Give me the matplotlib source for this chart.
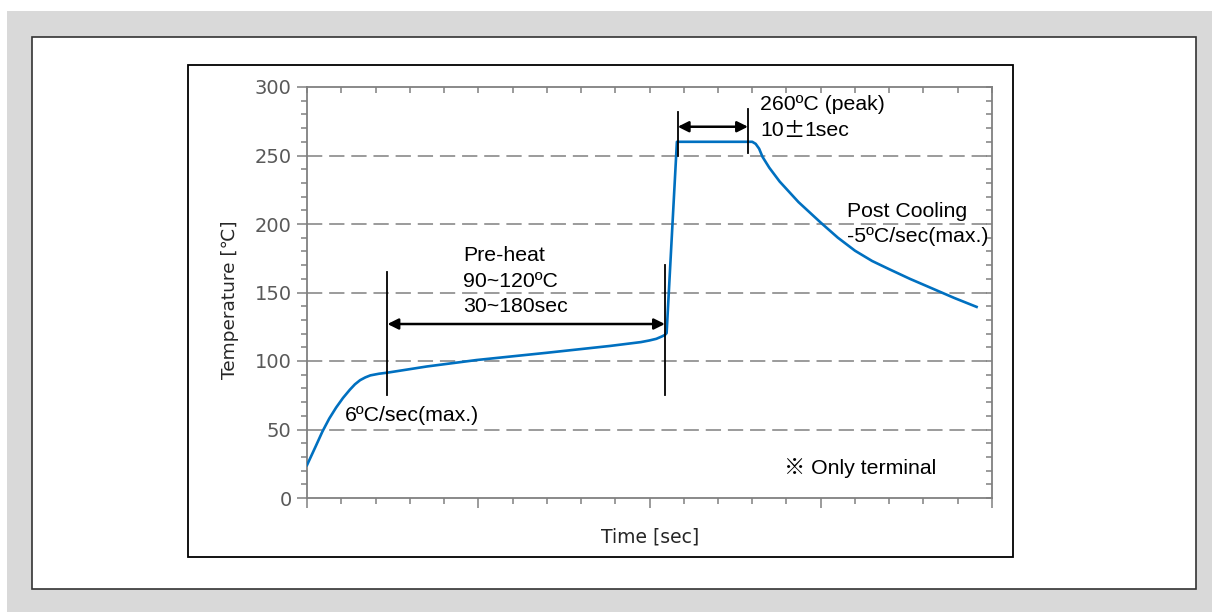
import numpy as np
import matplotlib
matplotlib.use('Agg')
from matplotlib import pyplot as plt
from matplotlib.patches import Rectangle

# reflow profile
time_s = [0, 5, 9, 13, 17, 21, 25, 28, 31, 34, 37, 42, 47, 70, 99, 140, 177, 195, 200, 204, 207, 209, 210,
          216, 260, 262, 264, 266, 270, 276, 287, 300, 310, 320, 330, 340, 352, 365, 378, 391]
temp_c = [24, 37.5, 48.5, 58, 66, 73, 79, 83, 86, 88, 89.5, 90.7, 91.5, 96, 100.7, 106, 111, 113.8, 115, 116.2, 117.8, 119, 120.4,
          260, 260, 258.5, 255, 249, 241, 231, 216, 201, 190, 180.5, 173, 167, 160, 153, 146, 139.5]

# marker lines [x, y_bottom, y_top]
preheat_lines = [(47, 75, 165), (209, 75, 170)]
peak_lines = [(216.5, 250, 282), (257.5, 252, 284)]

yticks = [0, 50, 100, 150, 200, 250, 300]
grid_levels = [50, 100, 150, 200, 250]

blue = '#0070C0'
grey_txt = '#595959'
txt_font = ['Liberation Sans', 'Noto Sans CJK JP', 'DejaVu Sans']

fig = plt.figure(figsize=(12.12, 6.12), dpi=100)
fig.patch.set_facecolor('white')

W, H = 1212.0, 612.0
def frect(x0, y0, x1, y1, **kw):
    # rectangle from pixel coords (top-left origin)
    r = Rectangle((x0 / W, 1 - y1 / H), (x1 - x0) / W, (y1 - y0) / H,
                  transform=fig.transFigure, **kw)
    fig.add_artist(r)

frect(7, 11, 1212, 612, facecolor='#D9D9D9', edgecolor='none', zorder=-3)
frect(32, 37, 1196, 589, facecolor='white', edgecolor='#333333', lw=1.2, zorder=-2)
frect(188, 65, 1013, 557, facecolor='white', edgecolor='black', lw=1.3, zorder=-1)

ax = fig.add_axes([307 / W, 1 - 498 / H, (992 - 307) / W, (498 - 87) / H])
ax.set_facecolor('none')

# grid
for g in grid_levels:
    ax.axhline(g, color='#808080', lw=1.1, dashes=(10, 4.5), zorder=1)

ax.plot(time_s, temp_c, color=blue, lw=1.9, zorder=3, solid_joinstyle='round')

for x, y0, y1 in preheat_lines + peak_lines:
    ax.plot([x, x], [y0, y1], color='black', lw=1.3, zorder=4)

arrow_kw = dict(arrowstyle='<|-|>', color='black', lw=1.8, mutation_scale=16,
                shrinkA=0, shrinkB=0)
ax.annotate('', xy=(47, 127), xytext=(209, 127), arrowprops=arrow_kw, zorder=5)
ax.annotate('', xy=(216.5, 271), xytext=(257.5, 271), arrowprops=arrow_kw, zorder=5)

tk = dict(fontsize=15.3, family=txt_font, color='black', va='center', ha='left')
ax.text(91, 177, 'Pre-heat', **tk)
ax.text(91, 158, '90~120ºC', **tk)
ax.text(91, 139.5, '30~180sec', **tk)
ax.text(22, 60.5, '6ºC/sec(max.)', **tk)
ax.text(264.5, 287, '260ºC (peak)', **tk)
# 10±1sec : wide ± from the CJK font, rest in Arial-like font
t1 = ax.text(264.5, 268, '10', **tk)
t2 = ax.annotate('±', xy=(1, 0.5), xycoords=t1, va='center', ha='left',
                 fontsize=15.3, family=['Noto Sans CJK JP'], color='black')
ax.annotate('1sec', xy=(1, 0), xycoords=(t2, t1), va='bottom', ha='left',
            fontsize=15.3, family=txt_font, color='black')
ax.text(315.5, 209, 'Post Cooling', **tk)
ax.text(315.5, 191, '-5ºC/sec(max.)', **tk)
ax.text(278.5, 22, '※ Only terminal', **tk)

ax.set_xlim(0, 400)
ax.set_ylim(0, 300)
ax.set_xticks(np.arange(0, 401, 100))
ax.set_xticks(np.arange(0, 401, 20), minor=True)
ax.set_xticklabels([])
ax.set_yticks(yticks)
ax.set_yticks(np.arange(0, 301, 10), minor=True)
ax.set_yticklabels([str(v) for v in yticks], fontsize=14, color=grey_txt,
                   family='DejaVu Sans')

for s in ax.spines.values():
    s.set_color('#808080')
    s.set_linewidth(1.3)

ax.tick_params(which='both', direction='out', color='#808080', width=1.1,
               top=False, right=False)
ax.tick_params(which='major', length=7, pad=4)
ax.tick_params(which='minor', length=4)

# inward ticks on top and right
ax_t = ax.secondary_xaxis('top')
ax_t.set_xticks(np.arange(0, 401, 20))
ax_t.set_xticklabels([])
ax_t.tick_params(direction='in', length=4, color='#808080', width=1.1)
ax_t.spines['top'].set_visible(False)
ax_r = ax.secondary_yaxis('right')
ax_r.set_yticks(np.arange(0, 301, 10))
ax_r.set_yticklabels([])
ax_r.tick_params(direction='in', length=4, color='#808080', width=1.1)
ax_r.spines['right'].set_visible(False)

fig.text(650 / W, 1 - 537 / H, 'Time [sec]', fontsize=13.5, color='#262626',
         family=['DejaVu Sans', 'Noto Sans CJK JP'], ha='center', va='center')
fig.text(230 / W, 1 - 300 / H, 'Temperature [℃]', fontsize=13.3, color='#262626',
         family=['DejaVu Sans', 'Noto Sans CJK JP'], ha='center', va='center',
         rotation=90)

fig.savefig('out.png', dpi=100)
